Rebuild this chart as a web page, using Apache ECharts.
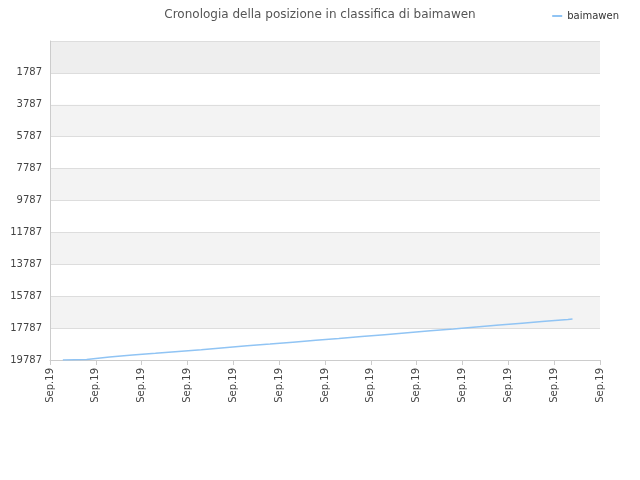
<!DOCTYPE html><html><head><meta charset="utf-8">
<script src="https://cdn.jsdelivr.net/npm/echarts@6/dist/echarts.min.js"></script>
<style>html,body{margin:0}#c{width:640px;height:480px}</style></head><body><div id="c"></div>
<script>
const xLabels=["Sep.19","Sep.19","Sep.19","Sep.19","Sep.19","Sep.19","Sep.19","Sep.19","Sep.19","Sep.19","Sep.19","Sep.19","Sep.19"];
const yTicks=[1787,3787,5787,7787,9787,11787,13787,15787,17787,19787];
const posX=[0.28,0.8,1.3,1.8,2.3,2.8,3.3,3.8,4.3,4.8,5.3,5.8,6.3,6.8,7.3,7.8,8.3,8.8,9.3,9.8,10.3,10.8,11.3,11.4];
const posY=[19787,19750,19600,19480,19370,19250,19140,19020,18900,18790,18670,18550,18440,18320,18200,18080,17960,17850,17720,17600,17480,17360,17250,17220];
const chart=echarts.init(document.getElementById('c'));
chart.setOption({
 animation:false,
 title:{text:'Cronologia della posizione in classifica di baimawen',left:'center',top:4,textStyle:{fontSize:12,fontWeight:'normal',color:'#555',fontFamily:'DejaVu Sans'}},
 legend:{right:16,top:6,itemWidth:10,itemHeight:2,icon:'rect',textStyle:{fontSize:10,color:'#333',fontFamily:'DejaVu Sans'},data:['baimawen']},
 grid:{left:50,right:40,top:41,bottom:120},
 xAxis:{type:'value',min:0,max:12,interval:1,
  axisLabel:{rotate:90,fontSize:10,color:'#444',fontFamily:'DejaVu Sans',formatter:(v)=>xLabels[v]},
  axisLine:{onZero:false,lineStyle:{color:'#ccc'}},axisTick:{show:true,lineStyle:{color:'#ccc'}},splitLine:{show:false}},
 yAxis:{type:'value',inverse:true,min:-213,max:19787,interval:2000,
  axisLabel:{fontSize:10,color:'#444',fontFamily:'DejaVu Sans',formatter:(v)=>yTicks.includes(v)?String(v):''},
  axisLine:{show:true,onZero:false,lineStyle:{color:'#ccc'}},axisTick:{show:false},
  splitLine:{lineStyle:{color:'#ddd'}},
  splitArea:{show:true,areaStyle:{color:['#eeeeee','#ffffff','#f3f3f3','#ffffff','#f3f3f3','#ffffff','#f3f3f3','#ffffff','#f3f3f3','#ffffff']}}},
 series:[{name:'baimawen',type:'line',data:posX.map((x,i)=>[x,posY[i]]),showSymbol:false,lineStyle:{color:'#90c4f4',width:1.5},itemStyle:{color:'#90c4f4'}}]
});
</script></body></html>
